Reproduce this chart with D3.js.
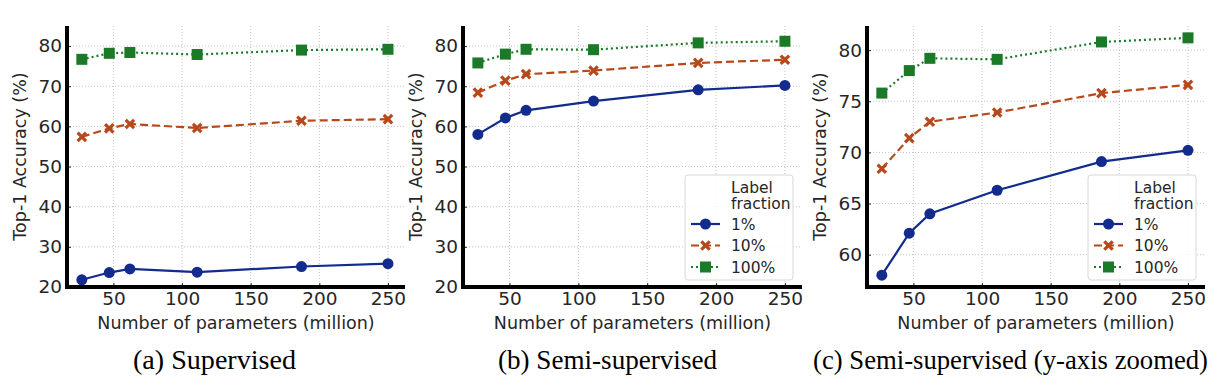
<!DOCTYPE html>
<html>
<head>
<meta charset="utf-8">
<script src="https://cdn.jsdelivr.net/npm/d3@7"></script>
<style>
  body { margin: 0; background: #fff; }
  svg { display: block; }
  .axis-label { font-family: "DejaVu Sans", sans-serif; font-size: 17.5px; fill: #262626; }
  .legend text { font-family: "DejaVu Sans", sans-serif; font-size: 15.5px; fill: #262626; }
  .caption { font-family: "Liberation Serif", "Times New Roman", serif; font-size: 27px; fill: #000; }
</style>
</head>
<body>
<div id="chart"></div>
<script>
const width = 1224;
const height = 388;

// data
const params = [27, 47, 62, 111, 187, 250];
const fractions = ['1%', '10%', '100%'];
const supervised1 = [21.8, 23.6, 24.5, 23.7, 25.1, 25.8];
const supervised10 = [57.4, 59.5, 60.6, 59.6, 61.4, 61.8];
const supervised100 = [76.7, 78.2, 78.4, 77.9, 79.0, 79.2];
const semi1 = [58.0, 62.1, 64.0, 66.3, 69.1, 70.2];
const semi10 = [68.4, 71.4, 73.0, 73.9, 75.8, 76.6];
const semi100 = [75.8, 78.0, 79.2, 79.1, 80.8, 81.2];
const xTicks = [50, 100, 150, 200, 250];
const yTicksFull = [20, 30, 40, 50, 60, 70, 80];
const yTicksZoom = [60, 65, 70, 75, 80];
const captions = ['(a) Supervised', '(b) Semi-supervised', '(c) Semi-supervised (y-axis zoomed)'];

const colors = ['#122b8c', '#b8481a', '#1b7a28'];
const dashes = [null, '8,4', '2,3'];
const markers = ['circle', 'cross', 'square'];

const plotTop = 26, plotBottom = 287;

const panels = [
  { left: 67, right: 405, yDomain: [20, 85], yTicks: yTicksFull,
    series: [supervised1, supervised10, supervised100], legend: false,
    caption: captions[0], capX: 133, capW: 163 },
  { left: 463, right: 802, yDomain: [20, 85], yTicks: yTicksFull,
    series: [semi1, semi10, semi100], legend: true,
    caption: captions[1], capX: 498, capW: 219 },
  { left: 867, right: 1205, yDomain: [56.84, 82.36], yTicks: yTicksZoom,
    series: [semi1, semi10, semi100], legend: true,
    caption: captions[2], capX: 813, capW: 395 },
];

const svg = d3.select('#chart').append('svg')
  .attr('width', width).attr('height', height);

function drawMarker(g, type, color, x, y) {
  if (type === 'circle') {
    g.append('circle').attr('cx', x).attr('cy', y).attr('r', 5.5).attr('fill', color);
  } else if (type === 'square') {
    g.append('rect').attr('x', x - 5.5).attr('y', y - 5.5)
      .attr('width', 11).attr('height', 11).attr('fill', color);
  } else {
    const s = 4.2;
    g.append('path')
      .attr('d', `M${x - s},${y - s}L${x + s},${y + s}M${x - s},${y + s}L${x + s},${y - s}`)
      .attr('stroke', color).attr('stroke-width', 3.2).attr('stroke-linecap', 'butt');
  }
}

panels.forEach((p) => {
  const xScale = d3.scaleLinear().domain([16.2, 262.4]).range([p.left, p.right]);
  const yScale = d3.scaleLinear().domain(p.yDomain).range([plotBottom, plotTop]);
  const g = svg.append('g');

  // gridlines
  g.append('g').selectAll('line').data(xTicks).join('line')
    .attr('x1', (d) => xScale(d)).attr('x2', (d) => xScale(d))
    .attr('y1', plotTop).attr('y2', plotBottom)
    .attr('stroke', '#c4c4c4').attr('stroke-width', 1).attr('stroke-dasharray', '1,2');
  g.append('g').selectAll('line').data(p.yTicks).join('line')
    .attr('x1', p.left).attr('x2', p.right)
    .attr('y1', (d) => yScale(d)).attr('y2', (d) => yScale(d))
    .attr('stroke', '#c4c4c4').attr('stroke-width', 1).attr('stroke-dasharray', '1,2');

  // axes (ticks inward)
  const xAxis = g.append('g').attr('transform', `translate(0,${plotBottom})`)
    .call(d3.axisBottom(xScale).tickValues(xTicks).tickSizeInner(-4).tickSizeOuter(0).tickPadding(10));
  const yAxis = g.append('g').attr('transform', `translate(${p.left},0)`)
    .call(d3.axisLeft(yScale).tickValues(p.yTicks).tickSizeInner(-4).tickSizeOuter(0).tickPadding(5));
  [xAxis, yAxis].forEach((a) => {
    a.select('.domain').remove();
    a.attr('font-family', null).attr('font-size', null);
    a.selectAll('.tick line').attr('stroke', '#262626').attr('stroke-width', 1);
    a.selectAll('.tick text')
      .style('font-family', '"DejaVu Sans", sans-serif')
      .style('font-size', '18.5px')
      .style('fill', '#262626');
  });
  xAxis.selectAll('.tick text').attr('dy', '0.71em').attr('y', 5);

  // spines
  g.append('line').attr('x1', p.left).attr('x2', p.left).attr('y1', plotTop).attr('y2', plotBottom + 2)
    .attr('stroke', '#000').attr('stroke-width', 4);
  g.append('line').attr('x1', p.left - 2).attr('x2', p.right).attr('y1', plotBottom).attr('y2', plotBottom)
    .attr('stroke', '#000').attr('stroke-width', 4);

  // series
  p.series.forEach((vals, i) => {
    const pts = params.map((x, j) => [x, vals[j]]);
    g.append('path')
      .datum(pts)
      .attr('fill', 'none')
      .attr('stroke', colors[i])
      .attr('stroke-width', 2.2)
      .attr('stroke-dasharray', dashes[i])
      .attr('d', d3.line().x((d) => xScale(d[0])).y((d) => yScale(d[1])));
    const mg = g.append('g');
    pts.forEach((d) => drawMarker(mg, markers[i], colors[i], xScale(d[0]), yScale(d[1])));
  });

  // axis labels
  g.append('text').attr('class', 'axis-label')
    .attr('x', (p.left + p.right) / 2).attr('y', 329)
    .attr('text-anchor', 'middle')
    .text('Number of parameters (million)');
  g.append('text').attr('class', 'axis-label')
    .attr('transform', `translate(${p.left - 41},${(plotTop + plotBottom) / 2}) rotate(-90)`)
    .attr('text-anchor', 'middle')
    .text('Top-1 Accuracy (%)');

  // legend
  if (p.legend) {
    const lx = p.right - 117, ly = 175;
    const lg = g.append('g').attr('class', 'legend');
    lg.append('rect').attr('x', lx).attr('y', ly).attr('width', 108).attr('height', 105)
      .attr('rx', 3).attr('fill', '#fff').attr('fill-opacity', 0.85)
      .attr('stroke', '#d8d8d8').attr('stroke-width', 1);
    lg.append('text').attr('x', lx + 46).attr('y', ly + 18).text('Label');
    lg.append('text').attr('x', lx + 46).attr('y', ly + 34).text('fraction');
    fractions.forEach((f, i) => {
      const yy = ly + 49 + i * 21.5;
      lg.append('line').attr('x1', lx + 6).attr('x2', lx + 35).attr('y1', yy).attr('y2', yy)
        .attr('stroke', colors[i]).attr('stroke-width', 2.2).attr('stroke-dasharray', dashes[i]);
      drawMarker(lg, markers[i], colors[i], lx + 20.5, yy);
      lg.append('text').attr('x', lx + 46).attr('y', yy + 5.5).text(f);
    });
  }

  // caption
  svg.append('text').attr('class', 'caption')
    .attr('x', p.capX).attr('y', 369)
    .attr('textLength', p.capW).attr('lengthAdjust', 'spacingAndGlyphs')
    .text(p.caption);
});
</script>
</body>
</html>
